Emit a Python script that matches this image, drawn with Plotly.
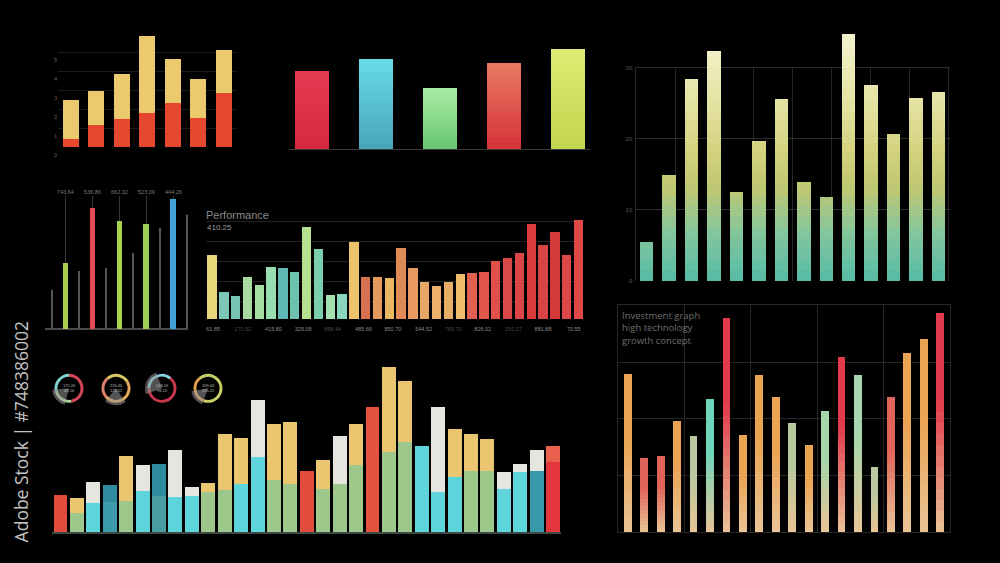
import plotly.graph_objects as go

W, H = 1000, 563
H_EFF = 551.5  # rendered paper height observed in the photographing browser


def fx(p):
    return p / W


def fy(p):
    return 1 - p / H_EFF


def hex2rgb(h):
    h = h.lstrip('#')
    return tuple(int(h[i:i + 2], 16) for i in (0, 2, 4))


def mix(c1, c2, t):
    a, b = hex2rgb(c1), hex2rgb(c2)
    return 'rgb(%d,%d,%d)' % tuple(round(a[i] + (b[i] - a[i]) * t) for i in range(3))


def scale_color(stops, v):
    for (v0, c0), (v1, c1) in zip(stops[:-1], stops[1:]):
        if v <= v1:
            return mix(c0, c1, max(0.0, (v - v0) / (v1 - v0)))
    return mix(stops[-1][1], stops[-1][1], 0)


# ---------------- DATA ----------------
# Panel A (top-left stacked)
a_cats = [0, 1, 2, 3, 4, 5, 6]
a_red = [0.42, 1.16, 1.47, 1.79, 2.32, 1.53, 2.84]
a_yellow = [2.05, 1.79, 2.37, 4.05, 2.31, 2.05, 2.26]
a_ticks = [0, 1, 2, 3, 4, 5]

# Panel B (top-middle five bars)
b_cats = [0, 1, 2, 3, 4]
b_vals = [78, 90, 61, 86, 100]
b_top = ['#e43c52', '#68dbe8', '#aaeca6', '#e97c62', '#dfec74']
b_bottom = ['#d6283f', '#48a5b8', '#68c670', '#d6303a', '#c2d44e']

# Panel C (top-right gradient bars)
c_cats = list(range(14))
c_vals = [5.5, 14.9, 28.5, 32.4, 12.5, 19.6, 25.6, 13.9, 11.8, 34.8, 27.6, 20.7, 25.8, 26.6]
c_ticks = [0, 10, 20, 30]

# Panel D (thin bars, middle-left)
d_main_x = [0.5, 1.5, 2.5, 3.5, 4.5]
d_main = [66, 121, 108, 105, 130]
d_main_colors = ['#a9cf4f', '#e04c52', '#a8d24c', '#9ccf52', '#3fa3d6']
d_main_labels = ["743.64", "536.86", "662.32", "523.09", "444.26"]
d_thin_x = [0, 1, 2, 3, 4, 5]
d_thin = [39, 58, 61, 76, 101, 114]
d_thin_labels = ["75.55", "148.21", "175.38", "149.50", "174.82", "9.86"]

# Panel E (Performance)
e_cats = list(range(32))
e_vals = [64.7, 27, 23, 42.7, 34.7, 52.3, 51, 47.3, 92.3, 70.3, 24, 25.3,
          77, 42.3, 42.3, 41, 71, 51.3, 37.3, 33, 37, 45.7, 46.7, 47.3,
          58, 61, 66, 95, 74, 87, 64, 98.7]
e_colors = ['#e8d67a', '#7cc7b8', '#79c3b5', '#a9dba0', '#a6dea0', '#98dcb0', '#5fb8b5', '#6cc2ae',
            '#b7e08e', '#7ccfae', '#a4e0b0', '#8ad6bd', '#ecc36a', '#d9704f', '#e49a5c', '#e9b760',
            '#e08a58', '#e89a62', '#e8a865', '#eeb06a', '#e8ae68', '#eebd6c', '#e26050', '#e0564a',
            '#e05048', '#d94848', '#dc4545', '#d83c3c', '#d94444', '#d43a3a', '#dc4848', '#e04848']
e_tick_pos = [0.1, 2.6, 5.2, 7.7, 10.2, 12.8, 15.3, 17.9, 20.4, 22.9, 25.5, 28.0, 30.6]
e_tick_txt = ["61.85", "170.52", "415.80", "329.08", "698.44", "485.66", "850.70",
              "544.52", "769.70", "826.02", "150.27", "881.88", "70.55"]
e_tick_dim = [False, True, False, False, True, False, False, False, True, False, True, False, False]

# Panel G (bottom-left stacked)
g_cats = list(range(31))
g_bottom = [37.3, 19, 29.3, 30.7, 31.7, 41.7, 36.3, 35, 36.7, 40, 42, 48.3, 75.3, 52.7, 48.7, 61.7,
            43.3, 48.7, 67, 125.7, 80.7, 90.7, 86, 40, 55.7, 61.7, 61.3, 43.3, 60, 61, 70]
g_top = [0, 15, 20.7, 16.7, 44.7, 25.7, 32.3, 47, 9, 9.7, 56, 45.7, 57, 55.3, 61.3, 0,
         29, 48, 41.7, 0, 84.7, 60.7, 0, 85.3, 47.3, 36.3, 32, 17.3, 8.7, 21.7, 16.7]
R, S, Y, C, WT, T, DT, LR = '#e14c3d', '#9dc78b', '#ebc670', '#5dd5db', '#e7e5df', '#3c9cab', '#2f8c9e', '#ea604e'
g_bottom_col = [R, S, C, T, S, C, '#4a9ea2', C, C, S, S, C, C, S, S, R,
                S, S, S, '#e4533f', S, S, C, C, C, S, S, C, C, '#3897a8', '#e2363c']
g_top_col = [R, Y, WT, DT, Y, WT, DT, WT, WT, Y, Y, Y, WT, Y, Y, R,
             Y, WT, Y, R, Y, Y, C, WT, Y, Y, Y, WT, WT, WT, LR]

# Panel F (bottom-right investment)
f_cats = list(range(20))
f_vals = [158.3, 74.3, 76.3, 111.3, 96.3, 133.3, 214.3, 97, 157.3, 135.3,
          109, 87, 121.7, 175, 157.3, 65, 135, 179.7, 193.7, 219.3]
O, RC, RD, SG, MT, GN = '#eaa452', '#e1645a', '#e13a4c', '#b9c89d', '#6fd5bc', '#a6d6ad'
f_top = [O, RC, RC, O, SG, MT, RD, O, O, O, SG, O, GN, RD, GN, SG, RC, O, O, RD]
f_bottom = ['#e9c496'] * 20

# Donuts
donut_centers = [(69, 388), (116, 388), (162, 388), (208, 388)]
donut_vals = [[100, 170, 90], [90, 100, 170], [130, 230], [120, 240]]
donut_cols = [['#82d2d2', '#d4475a', '#a8d49a'],
              ['#e0806e', '#dcc862', '#e8a85a'],
              ['#88d3e2', '#c8374c'],
              ['#e4a04e', '#c8d064']]
donut_rot = [260, 230, 270, 200]
wedge_span = [70, 75, 90, 60]
wedge_rot = [195, 145, 250, 200]
donut_txt = ["175.20<br>68.16", "226.46<br>125.52", "148.16<br>98.22", "209.44<br>155.22"]

# ---------------- FIGURE ----------------
fig = go.Figure()
NOHOV = dict(hoverinfo='skip', showlegend=False)

# A
fig.add_trace(go.Bar(x=a_cats, y=a_red, width=0.63, marker=dict(color='#e5472f', line=dict(width=0)),
                     xaxis='x', yaxis='y', **NOHOV))
fig.add_trace(go.Bar(x=a_cats, y=a_yellow, width=0.63, marker=dict(color='#ebca6e', line=dict(width=0)),
                     xaxis='x', yaxis='y', **NOHOV))

# B (relative vertical gradient)
NB = 14
for k in range(NB):
    t = (k + 0.5) / NB
    fig.add_trace(go.Bar(x=b_cats, y=[v / NB for v in b_vals], width=0.53,
                         marker=dict(color=[mix(b, tp, t) for b, tp in zip(b_bottom, b_top)], line=dict(width=0)),
                         xaxis='x2', yaxis='y2', **NOHOV))

# C grid helper subplot
fig.add_trace(go.Scatter(x=[None], y=[None], xaxis='x3', yaxis='y3', **NOHOV))

# C bars (absolute level gradient)
c_stops = [(0, '#56bba7'), (7, '#86c69c'), (13, '#bfc872'), (18, '#d3d07c'), (25, '#e4e3a2'), (36, '#f6f4d2')]
NC = 24
c_max = 36.0
for k in range(NC):
    h = c_max / NC
    seg = [min(max(v - k * h, 0), h) for v in c_vals]
    fig.add_trace(go.Bar(x=c_cats, y=seg, width=0.6,
                         marker=dict(color=scale_color(c_stops, (k + 0.5) * h), line=dict(width=0)),
                         xaxis='x4', yaxis='y4', **NOHOV))

# D
fig.add_trace(go.Bar(x=d_thin_x, y=d_thin, width=0.045, marker=dict(color='#555555', line=dict(width=0)),
                     text=d_thin_labels, textposition='outside', textfont=dict(size=5, color='#6a6a6a'),
                     cliponaxis=False, xaxis='x5', yaxis='y5', **NOHOV))
fig.add_trace(go.Bar(x=d_main_x, y=d_main, width=0.22, marker=dict(color=d_main_colors, line=dict(width=0)),
                     xaxis='x5', yaxis='y5', **NOHOV))

# E
fig.add_trace(go.Bar(x=e_cats, y=e_vals, width=0.79, marker=dict(color=e_colors, line=dict(width=0)),
                     xaxis='x6', yaxis='y6', **NOHOV))

# G
fig.add_trace(go.Bar(x=g_cats, y=g_bottom, width=0.85, marker=dict(color=g_bottom_col, line=dict(width=0)),
                     xaxis='x7', yaxis='y7', **NOHOV))
fig.add_trace(go.Bar(x=g_cats, y=g_top, width=0.85, marker=dict(color=g_top_col, line=dict(width=0)),
                     xaxis='x7', yaxis='y7', **NOHOV))

# F (relative gradient, fading to tan at bottom)
NF = 20
for k in range(NF):
    t = (k + 0.5) / NF
    s = min(1.0, t / 0.6)
    fig.add_trace(go.Bar(x=f_cats, y=[v / NF for v in f_vals], width=0.47,
                         marker=dict(color=[mix(b, tp, s) for b, tp in zip(f_bottom, f_top)], line=dict(width=0)),
                         xaxis='x8', yaxis='y8', **NOHOV))

# Donuts
for (cx, cy), vals, cols, rot, ws, wr in zip(donut_centers, donut_vals, donut_cols, donut_rot, wedge_span, wedge_rot):
    r = 14.5
    fig.add_trace(go.Pie(values=vals, marker=dict(colors=cols, line=dict(width=0)), hole=0.8, sort=False,
                         direction='clockwise', rotation=rot, textinfo='none',
                         domain=dict(x=[fx(cx - r), fx(cx + r)], y=[fy(cy + r), fy(cy - r)]), **NOHOV))
    r2 = 17
    fig.add_trace(go.Pie(values=[ws, 360 - ws],
                         marker=dict(colors=['rgba(150,150,150,0.55)', 'rgba(0,0,0,0)'], line=dict(width=0)),
                         sort=False, direction='clockwise', rotation=wr, textinfo='none',
                         domain=dict(x=[fx(cx - r2), fx(cx + r2)], y=[fy(cy + r2), fy(cy - r2)]), **NOHOV))

# ---------------- LAYOUT ----------------
BASE = dict(showgrid=False, zeroline=False, showticklabels=False, ticks='', showline=False, fixedrange=True)
SMALL = dict(family='Liberation Sans, Arial, sans-serif')

layout = dict(
    width=W, height=H, autosize=False, margin=dict(l=0, r=0, t=0, b=0, pad=0),
    paper_bgcolor='#000000', plot_bgcolor='rgba(0,0,0,0)',
    barmode='stack', showlegend=False,
    font=dict(family='Liberation Sans, Arial, sans-serif', color='#888888'),
)

# A
layout['xaxis'] = dict(BASE, domain=[fx(58), fx(236.5)], range=[-0.5, 6.5], anchor='y')
layout['yaxis'] = dict(BASE, domain=[fy(147), fy(33)], range=[0, 6], anchor='x', tickvals=a_ticks,
                       showticklabels=True, tickfont=dict(SMALL, size=5, color='#6a6a6a'),
                       showgrid=True, gridcolor='#1b1b1b', gridwidth=1, ticklabelshift=8)
# B
layout['xaxis2'] = dict(BASE, domain=[fx(289), fx(590)], range=[-0.36, 4.34], anchor='y2',
                        showline=True, linecolor='#3a3a3a', linewidth=1)
layout['yaxis2'] = dict(BASE, domain=[fy(149), fy(40)], range=[0, 109], anchor='x2')
# C grid
layout['xaxis3'] = dict(BASE, domain=[fx(636), fx(948)], range=[0, 8], anchor='y3', showgrid=True,
                        dtick=1, tick0=0, gridcolor='#262626', gridwidth=1)
layout['yaxis3'] = dict(BASE, domain=[fy(281), fy(68)], range=[0, 1], anchor='x3', showline=True,
                        mirror=True, linecolor='#262626', linewidth=1)
# C bars
layout['xaxis4'] = dict(BASE, domain=[fx(635.3), fx(949.8)], range=[-0.5, 13.5], anchor='y4')
layout['yaxis4'] = dict(BASE, domain=[fy(281), fy(30)], range=[-0.05, 35.35], anchor='x4', tickvals=c_ticks,
                        showgrid=True, gridcolor='#2c2c2c', gridwidth=1, showticklabels=True,
                        tickfont=dict(SMALL, size=6, color='#5a5a5a'), ticklabelstandoff=2)
# D
layout['xaxis5'] = dict(BASE, domain=[fx(45), fx(188)], range=[-0.26, 5.04], anchor='y5', side='top',
                        tickvals=d_main_x, ticktext=d_main_labels, showticklabels=True,
                        tickfont=dict(SMALL, size=5.5, color='#7a7a7a'), showgrid=True,
                        gridcolor='#363636', gridwidth=1)
layout['yaxis5'] = dict(BASE, domain=[fy(329), fy(196)], range=[-0.6, 133], anchor='x5', zeroline=True,
                        zerolinecolor='#4a4a4a', zerolinewidth=1.5)
# E
e_ticktext = ['<span style="color:%s">%s</span>' % ('#4a4a4a' if d else '#8a8a8a', t)
              for t, d in zip(e_tick_txt, e_tick_dim)]
layout['xaxis6'] = dict(BASE, domain=[fx(206.1), fx(584.4)], range=[-0.5, 31.5], anchor='y6',
                        tickvals=e_tick_pos, ticktext=e_ticktext, showticklabels=True,
                        tickfont=dict(SMALL, size=5.5, color='#8a8a8a'), ticklabelstandoff=5)
layout['yaxis6'] = dict(BASE, domain=[fy(319), fy(205)], range=[0, 114], anchor='x6',
                        tickvals=[18, 38, 58, 78, 98], showgrid=True, gridcolor='#232323', gridwidth=1)
# G
layout['xaxis7'] = dict(BASE, domain=[fx(52.3), fx(561.3)], range=[-0.5, 30.5], anchor='y7',
                        showline=True, linecolor='#3c4a44', linewidth=1.5)
layout['yaxis7'] = dict(BASE, domain=[fy(532), fy(360)], range=[0, 172], anchor='x7')
# F
layout['xaxis8'] = dict(BASE, domain=[fx(618), fx(950)], range=[-0.6, 19.6], anchor='y8',
                        tickvals=[3.44, 7.48, 11.52, 15.56], showgrid=True, gridcolor='#262626', gridwidth=1,
                        showline=True, mirror=True, linecolor='#262626', linewidth=1)
layout['yaxis8'] = dict(BASE, domain=[fy(532), fy(305)], range=[0, 227], anchor='x8',
                        tickvals=[56.75, 113.5, 170.25], showgrid=True, gridcolor='#262626', gridwidth=1,
                        showline=True, mirror=True, linecolor='#262626', linewidth=1)

annotations = [
    dict(text='Performance', x=fx(204), y=fy(215), xref='paper', yref='paper', xanchor='left',
         yanchor='middle', showarrow=False, font=dict(family='Liberation Sans, Arial', size=11, color='#8a8a8a')),
    dict(text='410.25', x=fx(205), y=fy(227), xref='paper', yref='paper', xanchor='left',
         yanchor='middle', showarrow=False, font=dict(family='Liberation Sans, Arial', size=8, color='#9a9a9a')),
    dict(text='Investment graph<br>high technology<br>growth concept', x=fx(620), y=fy(307), xref='paper',
         yref='paper', xanchor='left', yanchor='top', align='left', showarrow=False,
         font=dict(family='Open Sans, sans-serif', size=9.5, color='#6e6e6e')),
    dict(text='Adobe Stock | #748386002', x=fx(21), y=fy(432), xref='paper', yref='paper', textangle=-90,
         xanchor='center', yanchor='middle', showarrow=False,
         font=dict(family='Open Sans, sans-serif', size=17.5, color='#c4c4c4')),
]
for (cx, cy), t in zip(donut_centers, donut_txt):
    annotations.append(dict(text=t, x=fx(cx), y=fy(cy), xref='paper', yref='paper', showarrow=False,
                            xanchor='center', yanchor='middle',
                            font=dict(family='Liberation Sans, Arial', size=4, color='#bbbbbb')))
layout['annotations'] = annotations

fig.update_layout(**layout)

POST = (
    "document.documentElement.style.margin='0';document.documentElement.style.background='#000';"
    "document.body.style.margin='0';document.body.style.padding='0';"
    "document.body.style.overflow='hidden';document.body.style.background='#000';"
)
fig.write_html('out.html', config={'displayModeBar': False}, post_script=POST)
